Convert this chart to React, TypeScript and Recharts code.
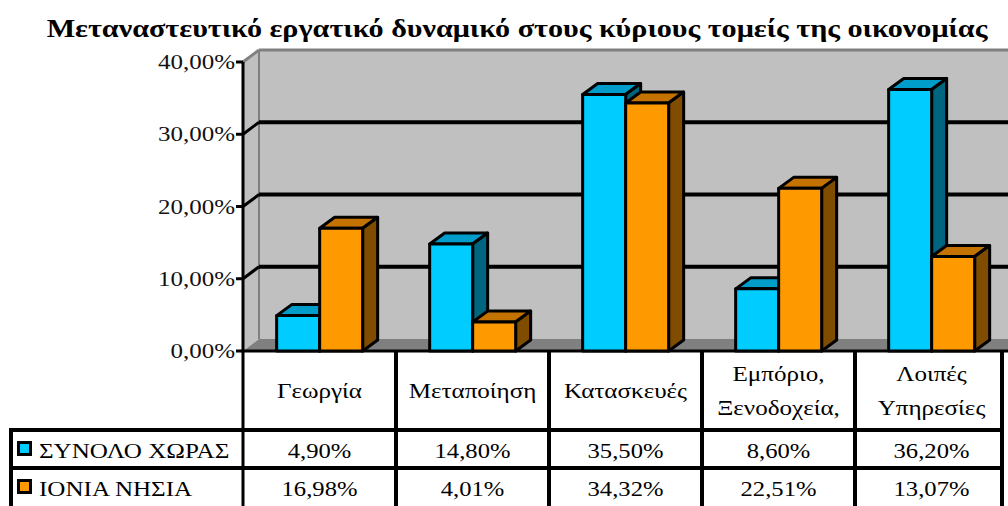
import { Bar, BarChart, Customized, XAxis, YAxis, usePlotArea } from "recharts";

const categories = ["Γεωργία", "Μεταποίηση", "Κατασκευές", "Εμπόριο, Ξενοδοχεία,", "Λοιπές Υπηρεσίες"];
const countryTotal = [4.9, 14.8, 35.5, 8.6, 36.2];
const ionianIslands = [16.98, 4.01, 34.32, 22.51, 13.07];
const seriesNames = ["ΣΥΝΟΛΟ ΧΩΡΑΣ", "ΙΟΝΙΑ ΝΗΣΙΑ"];
const yTicks = [0, 10, 20, 30, 40];
const title = "Μεταναστευτικό εργατικό δυναμικό στους κύριους τομείς της οικονομίας";

const data = categories.map((category, i) => ({
  category,
  total: countryTotal[i],
  ionian: ionianIslands[i]
}));

const FONT = "'Liberation Serif', 'Times New Roman', serif";
const Y_MAX = yTicks[yTicks.length - 1];
const WALL_DX = 16;
const WALL_DY = 12;
const BAR_DX = 15;
const BAR_DY = 11;
const HEADER_H = 79;
const ROW_H = 38;
const TABLE_LEFT = 11;

const palettes = [
  { front: "#00CCFF", top: "#009CCA", side: "#006680" },
  { front: "#FF9900", top: "#C47200", side: "#804C00" }
];

function pct(v: number) {
  return `${v.toFixed(2).replace(".", ",")}%`;
}

// source picture is stretched sideways, so the serif text is widened a bit
function StretchText(props: {
  x: number;
  y: number;
  sx: number;
  size: number;
  anchor?: "start" | "middle" | "end";
  bold?: boolean;
  fill?: string;
  children: string;
}) {
  const { x, y, sx, size, anchor = "start", bold, fill = "#000", children } = props;
  return (
    <text
      transform={`translate(${x} ${y}) scale(${sx} 1)`}
      x={0}
      y={0}
      textAnchor={anchor}
      fontFamily={FONT}
      fontSize={size}
      fontWeight={bold ? "bold" : "normal"}
      fill={fill}
    >
      {children}
    </text>
  );
}

function makeShape(p: { front: string; top: string; side: string }) {
  return (props: any) => {
    const { x, y, width, height } = props;
    if (height == null || width == null) return null;
    const r = x + width;
    const b = y + height;
    return (
      <g stroke="#000" strokeWidth={3} strokeLinejoin="round">
        <polygon points={`${x},${y} ${x + BAR_DX},${y - BAR_DY} ${r + BAR_DX},${y - BAR_DY} ${r},${y}`} fill={p.top} />
        <polygon points={`${r},${y} ${r + BAR_DX},${y - BAR_DY} ${r + BAR_DX},${b - BAR_DY} ${r},${b}`} fill={p.side} />
        <rect x={x} y={y} width={width} height={height} fill={p.front} />
      </g>
    );
  };
}

function Walls() {
  const plot = usePlotArea();
  if (!plot) return null;
  const L = plot.x;
  const T = plot.y;
  const R = plot.x + plot.width;
  const B = plot.y + plot.height;
  const yOf = (v: number) => B - (v / Y_MAX) * plot.height;
  return (
    <g>
      <StretchText x={517} y={37} sx={1.16} size={26} anchor="middle" bold>
        {title}
      </StretchText>
      <rect x={L + WALL_DX} y={T - WALL_DY} width={R - L - WALL_DX} height={B - T} fill="#C0C0C0" />
      <polygon
        points={`${L},${T} ${L + WALL_DX},${T - WALL_DY} ${L + WALL_DX},${B - WALL_DY} ${L},${B}`}
        fill="#C0C0C0"
      />
      <line x1={L} y1={T} x2={L + WALL_DX} y2={T - WALL_DY} stroke="#808080" strokeWidth={3} />
      <line x1={L + WALL_DX} y1={T - WALL_DY} x2={R} y2={T - WALL_DY} stroke="#808080" strokeWidth={3} />
      <line x1={L + WALL_DX} y1={T - WALL_DY} x2={L + WALL_DX} y2={B - WALL_DY} stroke="#808080" strokeWidth={2} />
      <polygon points={`${L},${B} ${L + WALL_DX},${B - WALL_DY} ${R},${B - WALL_DY} ${R},${B}`} fill="#808080" />
      {yTicks
        .filter((v) => v > 0 && v < Y_MAX)
        .map((v) => (
          <g key={v}>
            <line x1={L} y1={yOf(v)} x2={L + WALL_DX} y2={yOf(v) - WALL_DY} stroke="#000" strokeWidth={3} />
            <line x1={L + WALL_DX} y1={yOf(v) - WALL_DY} x2={R} y2={yOf(v) - WALL_DY} stroke="#000" strokeWidth={4} />
          </g>
        ))}
    </g>
  );
}

function Table() {
  const plot = usePlotArea();
  if (!plot) return null;
  const L = plot.x;
  const R = plot.x + plot.width;
  const B = plot.y + plot.height;
  const band = plot.width / categories.length;
  const row1 = B + HEADER_H;
  const rows = [countryTotal, ionianIslands];
  const bottom = row1 + ROW_H * 2 + 4;
  const right = R - 6;
  return (
    <g>
      <line x1={L} y1={plot.y} x2={L} y2={bottom} stroke="#000" strokeWidth={3} />
      <line x1={L - 2} y1={B} x2={R} y2={B} stroke="#000" strokeWidth={3} />
      {categories.map((_, i) => {
        const lx = i === categories.length - 1 ? right : L + band * (i + 1);
        return <line key={i} x1={lx} y1={B} x2={lx} y2={bottom} stroke="#000" strokeWidth={4} />;
      })}
      <line x1={TABLE_LEFT} y1={row1} x2={TABLE_LEFT} y2={bottom} stroke="#000" strokeWidth={4} />
      {[0, 1].map((r) => (
        <line key={r} x1={TABLE_LEFT - 2} y1={row1 + r * ROW_H} x2={right + 2} y2={row1 + r * ROW_H} stroke="#000" strokeWidth={4} />
      ))}
      {rows.map((values, r) => (
        <g key={r}>
          <rect x={TABLE_LEFT + 7.5} y={row1 + r * ROW_H + 12.5} width={12} height={12} fill={palettes[r].front} stroke="#000" strokeWidth={3} />
          <StretchText x={TABLE_LEFT + 28} y={row1 + r * ROW_H + 28} sx={1.14} size={22}>
            {seriesNames[r]}
          </StretchText>
          {values.map((v, i) => (
            <StretchText key={i} x={L + band * (i + 0.5)} y={row1 + r * ROW_H + 28} sx={1.12} size={22} anchor="middle">
              {pct(v)}
            </StretchText>
          ))}
        </g>
      ))}
    </g>
  );
}

function CategoryTick(props: any) {
  const { x, payload } = props;
  const lines = String(payload.value).split(" ");
  const plot = usePlotArea();
  const B = plot ? plot.y + plot.height : 351;
  const mid = B + HEADER_H / 2;
  const lh = 34;
  return (
    <g>
      {lines.map((l, i) => (
        <StretchText key={i} x={x} y={mid + 7 + (i - (lines.length - 1) / 2) * lh} sx={1.14} size={22} anchor="middle">
          {l}
        </StretchText>
      ))}
    </g>
  );
}

function ValueTick(props: any) {
  const { x, y, payload } = props;
  const v = Number(payload.value);
  return (
    <g>
      <StretchText x={x - 8} y={y + 7} sx={1.25} size={20} anchor="end" fill="#111">
        {pct(v)}
      </StretchText>
      <line x1={x - 7} y1={y} x2={x} y2={y} stroke="#000" strokeWidth={3} />
    </g>
  );
}

export default function App() {
  return (
    <div style={{ position: "absolute", left: 0, top: 0, width: 1008, height: 506, background: "#fff" }}>
      <BarChart
        width={1008}
        height={506}
        data={data}
        margin={{ top: 62, right: 0, left: 0, bottom: 506 - 62 - 289 - HEADER_H }}
        barCategoryGap="22%"
        barGap={0}
      >
        <Customized component={<Walls />} />
        <XAxis dataKey="category" height={HEADER_H} axisLine={false} tickLine={false} tick={<CategoryTick />} interval={0} />
        <YAxis
          width={243}
          domain={[0, Y_MAX]}
          ticks={yTicks}
          axisLine={false}
          tickLine={false}
          tickSize={0}
          tickMargin={0}
          tick={<ValueTick />}
        />
        <Bar dataKey="total" name={seriesNames[0]} isAnimationActive={false} shape={makeShape(palettes[0])} />
        <Bar dataKey="ionian" name={seriesNames[1]} isAnimationActive={false} shape={makeShape(palettes[1])} />
        <Customized component={<Table />} />
      </BarChart>
    </div>
  );
}
